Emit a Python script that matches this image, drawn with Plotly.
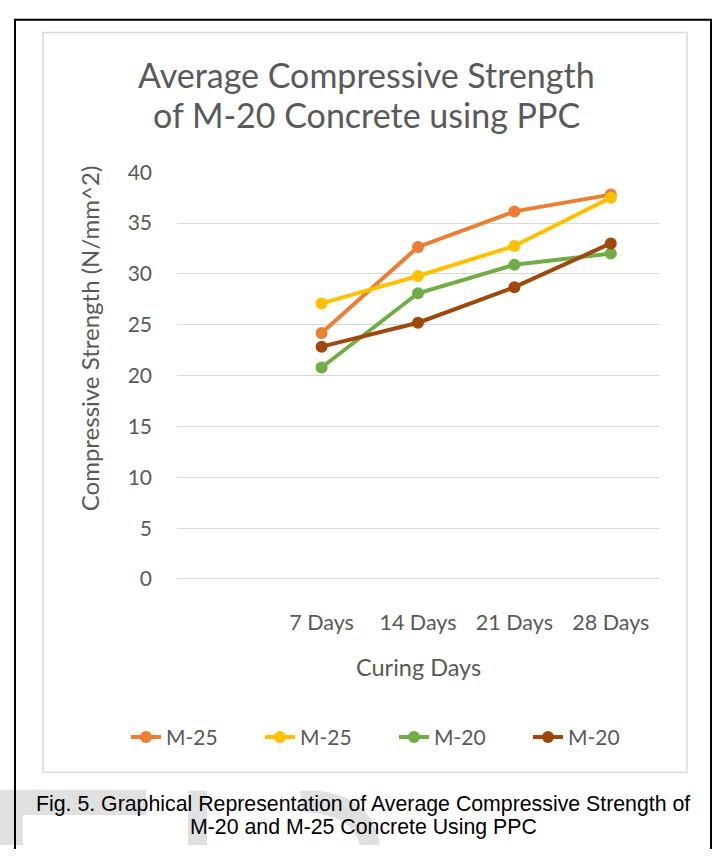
import plotly.graph_objects as go

W, H = 719, 856

# ---- data ----
categories = ["7 Days", "14 Days", "21 Days", "28 Days"]
series_names = ["M-25", "M-25", "M-20", "M-20"]
m25_a = [24.2, 32.65, 36.15, 37.8]
m25_b = [27.1, 29.8, 32.75, 37.5]
m20_a = [20.8, 28.1, 30.9, 32.0]
m20_b = [22.85, 25.2, 28.7, 33.0]
series_values = [m25_a, m25_b, m20_a, m20_b]
colors = ["#ED7D31", "#FFC000", "#70AD47", "#9E480E"]
y_ticks = [0, 5, 10, 15, 20, 25, 30, 35, 40]

title_lines = ["Average Compressive Strength", "of M-20 Concrete using PPC"]
y_title = "Compressive Strength (N/mm^2)"
x_title = "Curing Days"
caption_lines = ["Fig. 5. Graphical Representation of Average Compressive Strength of",
                 "M-20 and M-25 Concrete Using PPC"]

GRAY = "#595959"
FONT = "Lato"


def px(x):
    return x / W


def py(y):
    return 1 - y / H


fig = go.Figure()
for name, vals, col in zip(series_names, series_values, colors):
    fig.add_trace(go.Scatter(
        x=categories, y=vals, name=name, mode="lines+markers",
        line=dict(color=col, width=4),
        marker=dict(color=col, size=12),
        hoverinfo="skip",
    ))

shapes = []
# watermark (light gray blocks behind caption)
wm = "#E0E0E0"
shapes.append(dict(type="rect", xref="paper", yref="paper", layer="below",
                   x0=px(0), x1=px(146), y0=py(825), y1=py(799),
                   fillcolor=wm, line=dict(width=0)))
shapes.append(dict(type="rect", xref="paper", yref="paper", layer="below",
                   x0=px(0), x1=px(23), y0=py(856), y1=py(825),
                   fillcolor=wm, line=dict(width=0)))
shapes.append(dict(type="rect", xref="paper", yref="paper", layer="below",
                   x0=px(188), x1=px(207), y0=py(856), y1=py(800),
                   fillcolor=wm, line=dict(width=0)))


def pp(x, y):
    return f"{px(x):.5f},{py(y):.5f}"


path = (f"M {pp(300,800)} L {pp(318,800)} Q {pp(372,806)} {pp(380,856)} "
        f"L {pp(360,856)} Q {pp(352,824)} {pp(302,822)} Z")
shapes.append(dict(type="path", xref="paper", yref="paper", layer="below",
                   path=path, fillcolor=wm, line=dict(width=0)))
# outer black frame
shapes.append(dict(type="path", xref="paper", yref="paper",
                   path=f"M {pp(15,860)} L {pp(15,6)} L {pp(711,6)} L {pp(711,860)}",
                   line=dict(color="black", width=2)))
# chart area border
shapes.append(dict(type="rect", xref="paper", yref="paper",
                   x0=px(43), x1=px(687), y0=py(781), y1=py(19),
                   line=dict(color="#D9D9D9", width=1.5)))

annotations = []
for i, t in enumerate(title_lines):
    annotations.append(dict(text=t, xref="paper", yref="paper", x=px(366), y=py(62 + 42 * i),
                            xanchor="center", yanchor="middle", showarrow=False,
                            font=dict(family=FONT, size=34, color=GRAY)))
annotations.append(dict(text=y_title, xref="paper", yref="paper", x=px(89), y=py(334),
                        xanchor="center", yanchor="middle", showarrow=False, textangle=-90,
                        font=dict(family=FONT, size=24, color=GRAY)))
annotations.append(dict(text=x_title, xref="paper", yref="paper", x=px(418), y=py(673),
                        xanchor="center", yanchor="middle", showarrow=False,
                        font=dict(family=FONT, size=23.5, color=GRAY)))
for i, t in enumerate(caption_lines):
    annotations.append(dict(text=t, xref="paper", yref="paper", x=px(363), y=py(814 + 23 * i),
                            xanchor="center", yanchor="middle", showarrow=False,
                            font=dict(family="Liberation Sans", size=21.3, color="black")))

fig.update_layout(
    width=W, height=H,
    margin=dict(l=0, r=0, t=0, b=0),
    paper_bgcolor="white", plot_bgcolor="white",
    showlegend=True,
    legend=dict(orientation="h", x=px(126), y=py(745), xanchor="left", yanchor="middle",
                font=dict(family=FONT, size=21, color=GRAY),
                entrywidth=89, entrywidthmode="pixels", itemclick=False),
    xaxis=dict(domain=[px(177), px(659)], type="category", range=[-1.5, 3.5],
               showgrid=False, zeroline=False, showline=False, ticks="",
               tickfont=dict(family=FONT, size=21.5, color=GRAY), ticklabelstandoff=28,
               fixedrange=True),
    yaxis=dict(domain=[py(582), py(163)], range=[0, 40], tickvals=y_ticks,
               showgrid=True, gridcolor="#D9D9D9", gridwidth=1,
               zeroline=True, zerolinecolor="#D9D9D9", zerolinewidth=1,
               showline=False, ticks="",
               tickfont=dict(family=FONT, size=21, color=GRAY), ticklabelstandoff=24,
               fixedrange=True),
    shapes=shapes, annotations=annotations,
)

fig.write_html("out.html",
               config={"displayModeBar": False, "staticPlot": True},
               post_script="document.body.style.margin='0';"
                           "document.documentElement.style.overflow='hidden';")
